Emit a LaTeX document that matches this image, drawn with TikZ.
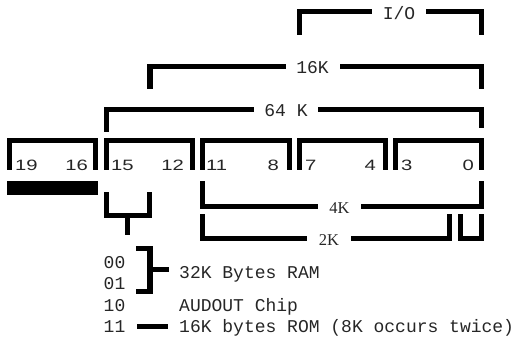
\documentclass[tikz,border=0pt]{standalone}
\usepackage{fontspec}
\setmonofont{Liberation Mono}
\newfontfamily\digfont[FakeStretch=1.35]{Liberation Sans}
\newfontfamily\serfont{Liberation Serif}
\begin{document}
\begin{tikzpicture}[x=1pt,y=-1pt,
 bk/.style={line width=5.5pt, line join=miter},
 mono/.style={font=\fontsize{18}{20}\ttfamily, text=black!85, inner sep=0pt, anchor=base west},
 lbl/.style={font=\fontsize{18}{20}\ttfamily, text=black!85, fill=white, inner xsep=10.8pt, inner ysep=2pt, anchor=base},
 klbl/.style={font=\fontsize{16.5}{18}\serfont, text=black!85, fill=white, inner xsep=11.5pt, inner ysep=2pt, anchor=base},
 digl/.style={font=\fontsize{15}{18}\digfont, text=black!85, inner sep=0pt, anchor=base west},
 digr/.style={font=\fontsize{15}{18}\digfont, text=black!85, inner sep=0pt, anchor=base east},
]
\useasboundingbox (0,0) rectangle (524,339);

% top brackets
\draw[bk] (299.5,35) |- (481.5,11.5) -- (481.5,35);
\node[lbl] (io) at (399,20) {I/O};
\draw[bk] (150,89) |- (481.5,66.5) -- (481.5,89);
\node[lbl] (k16) at (312.5,74) {16K};
\draw[bk] (106.5,132) |- (481.5,109.5) -- (481.5,128);
\node[lbl] (k64) at (286,117) {64 K};

% nibble boxes
\foreach \l/\r in {9.5/95.5, 106.5/192.5, 202.5/289.5, 299.5/385.5, 395.5/481.5}
  \draw[bk] (\l,170) |- (\r,140.5) -- (\r,170);
\node[digl] (b19) at (15,171) {19};
\node[digr] (b16) at (88,171) {16};
\node[digl] (b15) at (111,171) {15};
\node[digr] (b12) at (184,171) {12};
\node[digl] (b11) at (206,171) {11};
\node[digr] (b8) at (279,171) {8};
\node[digl] (b7) at (305,171) {7};
\node[digr] (b4) at (376,171) {4};
\node[digl] (b3) at (401,171) {3};
\node[digr] (b0) at (474,171) {0};

% black bar
\fill (7,181) rectangle (98,194.5);

% Y under bits 15-14
\draw[bk] (106.5,192) |- (149.5,215.5) -- (149.5,192);
\draw[bk] (127.5,215.5) -- (127.5,235);

% 4K / 2K brackets
\draw[bk] (202.5,181) |- (481.5,206.5) -- (481.5,181);
\node[klbl] (k4) at (339.5,213) {4K};
\draw[bk] (202.5,214) |- (449.5,238.5) -- (449.5,214);
\node[klbl] (k2) at (329,245) {2K};
\draw[bk] (460.5,214) |- (481.5,238.5) -- (481.5,214);

% legend
\draw[bk] (136,248.5) -| (150,291.5) -- (136,291.5);
\draw[bk] (150,269.5) -- (168.5,269.5);
\draw[bk] (137,326.5) -- (168,326.5);
\node[mono] (c00) at (103.5,268) {00};
\node[mono] (c01) at (103.5,289) {01};
\node[mono] (c10) at (103.5,311) {10};
\node[mono] (c11) at (103.5,332) {11};
\node[mono] (ram) at (179,278) {32K Bytes RAM};
\node[mono] (aud) at (179,311) {AUDOUT Chip};
\node[mono] (rom) at (179,332) {16K bytes ROM (8K occurs twice)};
\end{tikzpicture}
\end{document}
